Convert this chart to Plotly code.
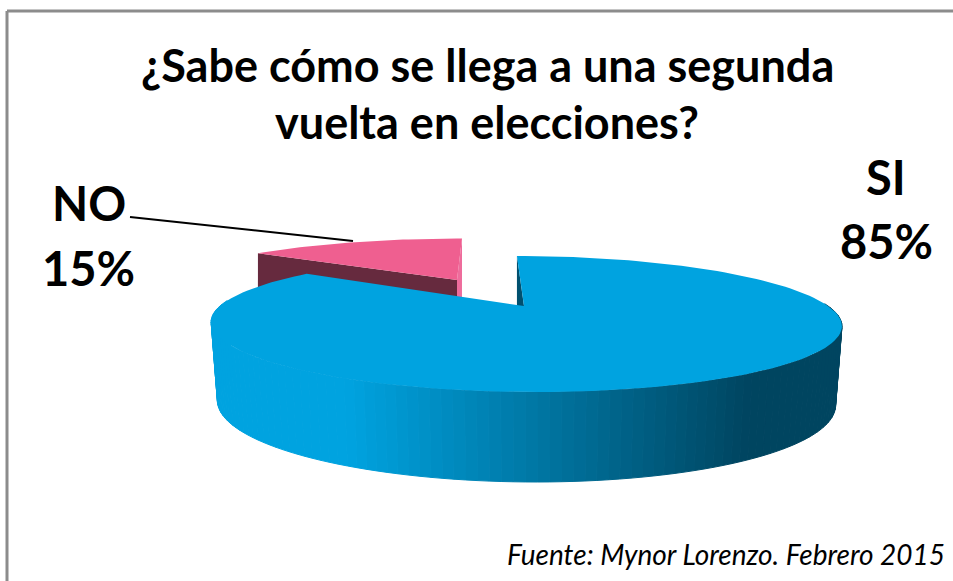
import math
import plotly.graph_objects as go

CATEGORIES = ["SI", "NO"]
SHARES = [85, 15]
TITLE_LINES = ["¿Sabe cómo se llega a una segunda", "vuelta en elecciones?"]
SOURCE = "Fuente: Mynor Lorenzo. Febrero 2015"

BLUE = "#00A3E0"
PINK = "#EF5F90"
PINK_LIGHT = "#EE6C9C"
MAROON = "#662A3E"
BLUE_DARK = (0, 69, 96)
BLUE_RGB = (0, 163, 224)
FONT = "Lato"
K = 0.265


def rim(deg, cx, cy, rx, a, b, sx=1.0):
    th = math.radians(deg)
    t = math.cos(th)
    d = 1 + K * t
    return cx + sx * (rx * math.sin(th) + b * t) / d, cy - a * t / d


def top_rim(deg):
    return rim(deg, 524, 306, 304, 63.2, -8.9)


def base_rim(deg):
    return rim(deg, 524, 382, 304, 73.5, -8.9, sx=0.98)


def pink_rim(deg):
    return rim(deg, 457, 280, 289, 52.5, 6.3)


def side_colour(x):
    f = min(1, max(0, (x - 345) / (750 - 345)))
    c = [round(p + (q - p) * f) for p, q in zip(BLUE_RGB, BLUE_DARK)]
    return f"rgb({c[0]},{c[1]},{c[2]})"


def poly(pts, colour, name=None, width=0):
    return go.Scatter(
        x=[p[0] for p in pts] + [pts[0][0]],
        y=[p[1] for p in pts] + [pts[0][1]],
        mode="lines",
        fill="toself",
        fillcolor=colour,
        line=dict(color=colour, width=width),
        hoverinfo="skip" if name is None else "name",
        name=name or "",
        showlegend=False,
    )


fig = go.Figure()

# the NO slice starts where the SI share ends
si_end = 360 * SHARES[0] / sum(SHARES)
no_end = si_end + 360 * SHARES[1] / sum(SHARES)
steps = 40

apex_no = (457, 280)
no_first = pink_rim(si_end)
no_last = pink_rim(no_end)
fig.add_trace(poly([no_first, apex_no, (apex_no[0], 297), (no_first[0], 297)], MAROON))
fig.add_trace(poly([no_last, apex_no, (apex_no[0], 297), (no_last[0], 297)], PINK_LIGHT))
fig.add_trace(poly(
    [apex_no] + [pink_rim(si_end + (no_end - si_end) * i / steps) for i in range(steps + 1)],
    PINK, name=CATEGORIES[1]))

# inner wall of the SI slice
first = top_rim(0)
fig.add_trace(poly([first, (524, 306), (first[0], 306)], "#00506F"))

# outer wall of the SI slice, in narrow shaded strips
strips = 110
lo, hi = 88.0, 275.0
for i in range(strips):
    d0 = lo + (hi - lo) * i / strips
    d1 = lo + (hi - lo) * (i + 1) / strips
    a, b = top_rim(d0), top_rim(d1)
    c, e = base_rim(d1), base_rim(d0)
    fig.add_trace(poly([a, b, c, e], side_colour((a[0] + b[0]) / 2), width=1))

fig.add_trace(poly(
    [(524, 306)] + [top_rim(si_end * i / 160) for i in range(161)],
    BLUE, name=CATEGORIES[0]))

ann = [
    dict(text=TITLE_LINES[0], x=487, y=65, size=45),
    dict(text=TITLE_LINES[1], x=487, y=122, size=45),
    dict(text=CATEGORIES[0], x=886, y=177, size=47),
    dict(text=f"{SHARES[0]}%", x=886, y=241, size=47),
    dict(text=CATEGORIES[1], x=89, y=203, size=47),
    dict(text=f"{SHARES[1]}%", x=88, y=268, size=47),
]
annotations = [
    dict(
        x=a["x"], y=a["y"], xref="x", yref="y", showarrow=False,
        text=f"<b>{a['text']}</b>", xanchor="center", yanchor="middle",
        font=dict(family=FONT, size=a["size"], color="#000000"),
    )
    for a in ann
]
annotations.append(dict(
    x=947, y=554, xref="x", yref="y", showarrow=False, text=f"<i>{SOURCE}</i>",
    xanchor="right", yanchor="middle",
    font=dict(family=FONT, size=28, color="#000000"),
))

fig.update_layout(
    width=953, height=581,
    margin=dict(l=0, r=0, t=0, b=0),
    paper_bgcolor="white", plot_bgcolor="white",
    showlegend=False,
    xaxis=dict(range=[0, 953], visible=False, fixedrange=True),
    yaxis=dict(range=[581, 0], visible=False, fixedrange=True),
    annotations=annotations,
    shapes=[
        dict(type="line", x0=130, y0=217, x1=353, y1=241, line=dict(color="black", width=2)),
        dict(type="line", x0=7, y0=11, x1=953, y1=11, line=dict(color="#8C8C8C", width=3)),
        dict(type="line", x0=7, y0=11, x1=7, y1=581, line=dict(color="#8C8C8C", width=3)),
    ],
)
fig.write_html(
    "out.html",
    config=dict(displayModeBar=False),
    post_script="document.body.style.margin='0';document.body.style.overflow='hidden';",
)
